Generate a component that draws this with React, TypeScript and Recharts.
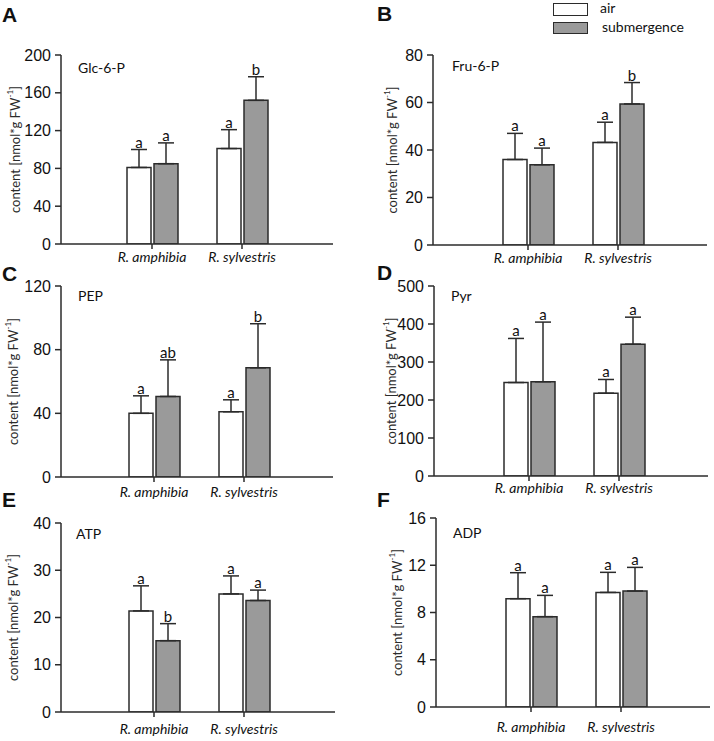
import React from 'react';
import { BarChart, Bar, XAxis, YAxis, ErrorBar, LabelList, Label } from 'recharts';

const species = ['R. amphibia', 'R. sylvestris'];

// Glc-6-P
const glcAir = [81, 101];
const glcSub = [85, 152];
const glcAirSd = [19, 20];
const glcSubSd = [22, 25];
const glcAirSig = ['a', 'a'];
const glcSubSig = ['a', 'b'];
const glcTicks = [0, 40, 80, 120, 160, 200];

// Fru-6-P
const fruAir = [36, 43.2];
const fruSub = [33.8, 59.4];
const fruAirSd = [11, 8.5];
const fruSubSd = [7, 9];
const fruAirSig = ['a', 'a'];
const fruSubSig = ['a', 'b'];
const fruTicks = [0, 20, 40, 60, 80];

// PEP
const pepAir = [40, 41];
const pepSub = [50.6, 68.6];
const pepAirSd = [11, 7.5];
const pepSubSd = [23, 27.7];
const pepAirSig = ['a', 'a'];
const pepSubSig = ['ab', 'b'];
const pepTicks = [0, 40, 80, 120];

// Pyr
const pyrAir = [246, 218];
const pyrSub = [248, 347];
const pyrAirSd = [116, 36];
const pyrSubSd = [157, 71];
const pyrAirSig = ['a', 'a'];
const pyrSubSig = ['a', 'a'];
const pyrTicks = [0, 100, 200, 300, 400, 500];

// ATP
const atpAir = [21.4, 25];
const atpSub = [15.1, 23.6];
const atpAirSd = [5.3, 3.8];
const atpSubSd = [3.6, 2.2];
const atpAirSig = ['a', 'a'];
const atpSubSig = ['b', 'a'];
const atpTicks = [0, 10, 20, 30, 40];

// ADP
const adpAir = [9.17, 9.7];
const adpSub = [7.65, 9.82];
const adpAirSd = [2.2, 1.7];
const adpSubSd = [1.8, 2.0];
const adpAirSig = ['a', 'a'];
const adpSubSig = ['a', 'a'];
const adpTicks = [0, 4, 8, 12, 16];

const INK = '#2b2b2b';
const GRAY = '#9a9a9a';
const HUMANIST = 'Lato, "Noto Sans", sans-serif';

const yTitle = (dist: number) => (props: any) => {
  const { viewBox } = props;
  const cx = viewBox.x + viewBox.width - dist;
  const cy = viewBox.y + viewBox.height / 2;
  return (
    <text
      x={cx}
      y={cy}
      transform={`rotate(-90 ${cx} ${cy})`}
      textAnchor="middle"
      dominantBaseline="central"
      fontFamily={HUMANIST}
      fontSize={13}
      fill={INK}
    >
      content [nmol*g FW<tspan dy={-5} fontSize={8}>-1</tspan>
      <tspan dy={5}>]</tspan>
    </text>
  );
};

const sigLabel = (sds: number[], sigs: string[]) => (props: any) => {
  const { x, y, width, height, value, index } = props;
  const pxPerUnit = Number(height) / Number(value);
  const top = Number(y) - sds[index] * pxPerUnit;
  return (
    <text
      x={Number(x) + Number(width) / 2}
      y={top - 2}
      textAnchor="middle"
      fontFamily={HUMANIST}
      fontSize={15}
      fill="#111"
    >
      {sigs[index]}
    </text>
  );
};

interface PanelProps {
  letter: string;
  title: string;
  air: number[];
  sub: number[];
  airSd: number[];
  subSd: number[];
  airSig: string[];
  subSig: string[];
  ticks: number[];
  chartLeft: number;
  axisX: number;
  topY: number;
  bottomY: number;
  rightX: number;
  padL: number;
  padR: number;
  tickGap: number;
  labelDist: number;
  titlePos: [number, number];
  letterPos: [number, number];
}

const Panel: React.FC<PanelProps> = (p) => {
  const data = species.map((name, i) => ({
    name,
    air: p.air[i],
    sub: p.sub[i],
    airErr: [0, p.airSd[i]],
    subErr: [0, p.subSd[i]],
  }));
  const chartTop = p.topY - 10;
  const width = p.rightX - p.chartLeft + 4;
  const height = p.bottomY + 32 - chartTop;
  const max = p.ticks[p.ticks.length - 1];

  return (
    <>
      <div
        style={{
          position: 'absolute',
          left: p.letterPos[0],
          top: p.letterPos[1],
          fontFamily: '"Liberation Sans", Arial, sans-serif',
          fontWeight: 'bold',
          fontSize: 21,
          lineHeight: '21px',
          color: '#111',
        }}
      >
        {p.letter}
      </div>
      <div
        style={{
          position: 'absolute',
          left: p.chartLeft,
          top: chartTop,
        }}
      >
        <BarChart
          width={width}
          height={height}
          data={data}
          margin={{ top: 10, right: 4, left: 0, bottom: 0 }}
          barSize={24}
          barGap={3}
        >
          <XAxis
            dataKey="name"
            height={32}
            padding={{ left: p.padL, right: p.padR }}
            axisLine={{ stroke: INK, strokeWidth: 1.5 }}
            tickLine={{ stroke: INK, strokeWidth: 1.5 }}
            tickSize={5}
            tickMargin={p.tickGap}
            tick={{ fontFamily: HUMANIST, fontStyle: 'italic', fontSize: 14, fill: '#111' }}
            interval={0}
          />
          <YAxis
            width={p.axisX - p.chartLeft}
            domain={[0, max]}
            ticks={p.ticks}
            allowDataOverflow
            axisLine={{ stroke: INK, strokeWidth: 1.5 }}
            tickLine={{ stroke: INK, strokeWidth: 1.5 }}
            tickSize={6}
            tickMargin={4}
            tick={{ fontFamily: '"Liberation Sans", Arial, sans-serif', fontSize: 16, fill: '#111' }}
          >
            <Label content={yTitle(p.labelDist)} />
          </YAxis>
          <text
            x={p.titlePos[0] - p.chartLeft}
            y={p.titlePos[1] - chartTop}
            dominantBaseline="central"
            fontFamily={HUMANIST}
            fontSize={14}
            fill="#111"
          >
            {p.title}
          </text>
          <Bar dataKey="air" name="air" fill="#ffffff" stroke={INK} strokeWidth={1.5} isAnimationActive={false}>
            <ErrorBar dataKey="airErr" direction="y" width={8} stroke={INK} strokeWidth={1.5} />
            <LabelList dataKey="air" content={sigLabel(p.airSd, p.airSig)} />
          </Bar>
          <Bar dataKey="sub" name="submergence" fill={GRAY} stroke={INK} strokeWidth={1.5} isAnimationActive={false}>
            <ErrorBar dataKey="subErr" direction="y" width={8} stroke={INK} strokeWidth={1.5} />
            <LabelList dataKey="sub" content={sigLabel(p.subSd, p.subSig)} />
          </Bar>
        </BarChart>
      </div>
    </>
  );
};

const Legend: React.FC = () => (
  <>
    <div style={{ position: 'absolute', left: 553, top: 3, width: 33, height: 11, background: '#fff', border: `1.5px solid ${INK}` }} />
    <div style={{ position: 'absolute', left: 600, top: 0, fontFamily: HUMANIST, fontSize: 14, lineHeight: '16px', color: '#111' }}>air</div>
    <div style={{ position: 'absolute', left: 553, top: 22, width: 33, height: 10, background: GRAY, border: `1.5px solid ${INK}` }} />
    <div style={{ position: 'absolute', left: 602, top: 19, fontFamily: HUMANIST, fontSize: 14, lineHeight: '16px', color: '#111' }}>submergence</div>
  </>
);

export default function App() {
  return (
    <div style={{ position: 'absolute', left: 0, top: 0, width: 714, height: 741, background: '#fff', overflow: 'hidden' }}>
      <Legend />
      <Panel
        letter="A" title="Glc-6-P"
        air={glcAir} sub={glcSub} airSd={glcAirSd} subSd={glcSubSd} airSig={glcAirSig} subSig={glcSubSig} ticks={glcTicks}
        chartLeft={0} axisX={61} topY={55} bottomY={244} rightX={333} padL={46} padR={46}
        tickGap={3} labelDist={46} titlePos={[78, 67]} letterPos={[2, 4]}
      />
      <Panel
        letter="B" title="Fru-6-P"
        air={fruAir} sub={fruSub} airSd={fruAirSd} subSd={fruSubSd} airSig={fruAirSig} subSig={fruSubSig} ticks={fruTicks}
        chartLeft={355} axisX={433} topY={55} bottomY={245} rightX={707} padL={50} padR={44}
        tickGap={3} labelDist={41} titlePos={[452, 65]} letterPos={[377, 3]}
      />
      <Panel
        letter="C" title="PEP"
        air={pepAir} sub={pepSub} airSd={pepAirSd} subSd={pepSubSd} airSig={pepAirSig} subSig={pepSubSig} ticks={pepTicks}
        chartLeft={0} axisX={61} topY={286} bottomY={477} rightX={333} padL={48} padR={44}
        tickGap={5} labelDist={48} titlePos={[78, 295]} letterPos={[2, 263]}
      />
      <Panel
        letter="D" title="Pyr"
        air={pyrAir} sub={pyrSub} airSd={pyrAirSd} subSd={pyrSubSd} airSig={pyrAirSig} subSig={pyrSubSig} ticks={pyrTicks}
        chartLeft={355} axisX={434} topY={286} bottomY={476} rightX={708} padL={50} padR={44}
        tickGap={2} labelDist={43} titlePos={[451, 295]} letterPos={[377, 262]}
      />
      <Panel
        letter="E" title="ATP"
        air={atpAir} sub={atpSub} airSd={atpAirSd} subSd={atpSubSd} airSig={atpAirSig} subSig={atpSubSig} ticks={atpTicks}
        chartLeft={0} axisX={61} topY={523} bottomY={712} rightX={335} padL={48} padR={46}
        tickGap={7} labelDist={48} titlePos={[76, 533]} letterPos={[2, 489]}
      />
      <Panel
        letter="F" title="ADP"
        air={adpAir} sub={adpSub} airSd={adpAirSd} subSd={adpSubSd} airSig={adpAirSig} subSig={adpSubSig} ticks={adpTicks}
        chartLeft={355} axisX={436} topY={518} bottomY={707} rightX={710} padL={50} padR={44}
        tickGap={10} labelDist={39} titlePos={[453, 532]} letterPos={[377, 489]}
      />
    </div>
  );
}
